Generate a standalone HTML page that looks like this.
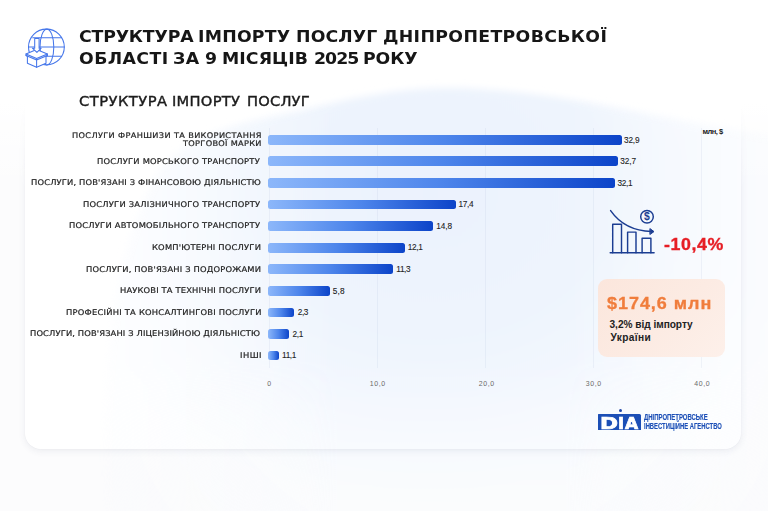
<!DOCTYPE html>
<html lang="uk">
<head>
<meta charset="utf-8">
<title>Структура імпорту послуг Дніпропетровської області</title>
<style>
html,body{margin:0;padding:0;}
body{width:768px;height:511px;overflow:hidden;position:relative;background:#fcfcfd;font-family:"Liberation Sans",sans-serif;color:#1a1a1a;}
.card{position:absolute;left:25px;top:-30px;width:716px;height:479px;border-radius:16px;background:transparent;box-shadow:0 2px 7px rgba(60,70,100,.085),0 0 2px rgba(60,70,100,.06);}
.cardfill{position:absolute;left:25px;top:-30px;width:716px;height:479px;border-radius:16px;background:#fff;}
.topfill{position:absolute;left:0;top:0;width:768px;height:200px;background:linear-gradient(180deg,#fff 0,#fff 100px,rgba(255,255,255,0) 190px);}
.cardwrap{position:absolute;left:0;top:0;width:768px;height:511px;-webkit-mask-image:linear-gradient(180deg,transparent 105px,#000 190px);mask-image:linear-gradient(180deg,transparent 105px,#000 190px);}
.t{position:absolute;white-space:nowrap;line-height:1;transform-origin:0 0;}
.hd{margin:0;padding:0;font:inherit;}
.title{font-weight:bold;color:#161616;}
.sub{color:#1c1c1c;-webkit-text-stroke:.4px #1c1c1c;}
.lab{color:#222;-webkit-text-stroke:.2px #222;}
.val{color:#222;-webkit-text-stroke:.1px #222;}
.ax{color:#6a6a6a;}
.mln{font-weight:bold;color:#222;}
.pct{font-weight:bold;color:#e61e25;-webkit-text-stroke:.35px #e61e25;}
.big{font-weight:bold;color:#f07d3c;-webkit-text-stroke:.3px #f07d3c;}
.small{font-weight:bold;color:#222;}
.bar{position:absolute;left:268px;height:9.7px;border-radius:2.5px;background:linear-gradient(90deg,#8cb7fa 0%,#4d85eb 50%,#0c44c9 100%);}
.grid{position:absolute;top:128px;width:1px;height:240px;background:rgba(150,165,200,.11);}
.ocard{position:absolute;left:598.2px;top:278.8px;width:127.2px;height:78.5px;border-radius:9px;background:linear-gradient(135deg,#fbe6dc 0%,#fcebe3 55%,#fdf0ea 100%);}
.logo{position:absolute;left:597.7px;top:413.8px;width:43.8px;height:15.9px;background:#1c4fb6;border-radius:.5px 1.5px .5px .5px;}
.lg{position:absolute;top:415.9px;font-family:"DejaVu Sans","Liberation Sans",sans-serif;font-weight:bold;font-size:15.7px;line-height:1;color:#fff;-webkit-text-stroke:.7px #fff;transform-origin:0 0;}
.lt{position:absolute;white-space:nowrap;line-height:1;color:#1c4fb6;font-weight:bold;transform-origin:0 0;-webkit-text-stroke:.15px #1c4fb6;}
</style>
</head>
<body>

<div class="cardfill"></div>
<div class="topfill"></div>
<svg style="position:absolute;left:0;top:0" width="768" height="511" viewBox="0 0 768 511">
  <defs>
    <radialGradient id="bg1" gradientUnits="userSpaceOnUse" cx="430" cy="190" r="400" gradientTransform="translate(430 190) scale(1 .8) translate(-430 -190)">
      <stop offset="0" stop-color="#ebf2fd"/><stop offset=".45" stop-color="#eef4fd"/><stop offset=".75" stop-color="#f4f8fe"/><stop offset="1" stop-color="#f9fbfe"/>
    </radialGradient>
    <filter id="bl" x="-10%" y="-10%" width="120%" height="120%"><feGaussianBlur stdDeviation="3.5"/></filter>
    <linearGradient id="fadeL" gradientUnits="userSpaceOnUse" x1="95" x2="768" y1="0" y2="0"><stop offset="0" stop-color="#fff" stop-opacity=".2"/><stop offset=".36" stop-color="#fff" stop-opacity="1"/><stop offset=".7" stop-color="#fff" stop-opacity="1"/><stop offset="1" stop-color="#fff" stop-opacity=".35"/></linearGradient>
    <mask id="mk" maskUnits="userSpaceOnUse" x="0" y="0" width="768" height="511"><rect x="0" y="0" width="768" height="511" fill="url(#fadeL)"/></mask>
    <linearGradient id="fadeV" gradientUnits="userSpaceOnUse" x1="0" x2="0" y1="0" y2="511"><stop offset="0" stop-color="#fff" stop-opacity="1"/><stop offset=".7" stop-color="#fff" stop-opacity="1"/><stop offset="1" stop-color="#fff" stop-opacity=".55"/></linearGradient>
    <mask id="mkv" maskUnits="userSpaceOnUse" x="0" y="0" width="768" height="511"><rect x="0" y="0" width="768" height="511" fill="url(#fadeV)"/></mask>
  </defs>
  <g mask="url(#mkv)"><g mask="url(#mk)"><path filter="url(#bl)" fill="url(#bg1)" d="M105 530C100 390 108 260 158 172C192 128 255 120 300 111C350 98 400 88 447 88C520 88 600 104 680 120C720 127 760 134 810 142L810 530Z"/></g></g>
</svg>
<div class="cardwrap"><div class="card"></div></div>
<div class="grid" style="left:268.6px"></div>
<div class="grid" style="left:376.8px"></div>
<div class="grid" style="left:484.9px"></div>
<div class="grid" style="left:593.1px"></div>
<div class="grid" style="left:701.1px"></div>
<div class="bar" style="top:134.90px;width:353.50px"></div>
<div class="bar" style="top:156.49px;width:349.50px"></div>
<div class="bar" style="top:178.07px;width:346.50px"></div>
<div class="bar" style="top:199.66px;width:187.75px"></div>
<div class="bar" style="top:221.24px;width:165.00px"></div>
<div class="bar" style="top:242.83px;width:136.75px"></div>
<div class="bar" style="top:264.41px;width:125.00px"></div>
<div class="bar" style="top:286.00px;width:62.00px"></div>
<div class="bar" style="top:307.58px;width:26.10px"></div>
<div class="bar" style="top:329.16px;width:20.75px"></div>
<div class="bar" style="top:350.75px;width:11.10px"></div>
<div class="ocard"></div>

<!-- globe / import icon -->
<svg style="position:absolute;left:20px;top:22px" width="56" height="50" viewBox="20 22 56 50" fill="none" stroke="#4576ea" stroke-width="1.05" stroke-linecap="round" stroke-linejoin="round">
  <circle cx="46.4" cy="47" r="17.9"/>
  <ellipse cx="46.9" cy="47" rx="6.9" ry="17.9"/>
  <path d="M32.7 37.7H61.1M28.5 47H64.3M46.5 56.3H61.6"/>
  <path d="M26 54L36.6 49.6L47.4 54V55.6L46 56.2V63.2L36.6 67.2L27.4 63.2V56.2L26 55.6Z" fill="#fff"/>
  <path d="M26 54L36.6 58.4L47.4 54M26 55.6L36.6 60L47.4 55.6M36.6 58.4V67.2"/>
  <path d="M34.7 38.4H39.1V48.2H41.2L36.9 52.4L32.4 48.2H34.7Z" fill="#fff"/>
</svg>

<!-- declining chart icon -->
<svg style="position:absolute;left:606px;top:204px" width="54" height="54" viewBox="606 204 54 54" fill="none" stroke="#1b3d92" stroke-width="1.45" stroke-linecap="round" stroke-linejoin="round">
  <path d="M610.2 252.7H654.1"/>
  <path d="M612.7 252.7V224.3H621.5V252.7M627.6 252.7V232.1H636V252.7M642.1 252.7V238.3H650.9V252.7"/>
  <path d="M610.6 210.6C620 224 634 231 651.6 231.5"/>
  <path d="M650.2 228.8L654 231.6L650.2 234.3Z" fill="#1b3d92" stroke-width="1"/>
  <circle cx="647" cy="216.7" r="6.3"/>
</svg>
<div class="t" style="left:644.0px;top:211.6px;font-size:10.4px;font-weight:bold;color:#1b3d92;">$</div>

<!-- DIA logo -->
<div class="logo"></div>
<div style="position:absolute;left:618.8px;top:408.5px;width:3.5px;height:3.5px;border-radius:50%;background:#1c45a8"></div>
<div class="lg" style="left:599.7px;transform:scaleX(1.38);">D</div>
<div class="lg" style="left:617.7px;transform:scaleX(1.05);">I</div>
<div class="lg" style="left:624.6px;transform:scaleX(1.08);">A</div>
<div class="lt" style="left:644.3px;top:413.0px;font-size:9.1px;transform:scaleX(.655);">ДНІПРОПЕТРОВСЬКЕ</div>
<div class="lt" style="left:644.3px;top:421.8px;font-size:9.1px;transform:scaleX(.645);">ІНВЕСТИЦІЙНЕ АГЕНСТВО</div>

<h1 class="hd">
<div class="t title" id="t1w0" style="left:78.50px;top:29.07px;font-family:'DejaVu Sans','Liberation Sans',sans-serif;font-size:15.75px;letter-spacing:-0.163px;transform:scaleX(1.100);">СТРУКТУРА</div>
<div class="t title" id="t1w1" style="left:197.90px;top:29.07px;font-family:'DejaVu Sans','Liberation Sans',sans-serif;font-size:15.75px;letter-spacing:0.212px;transform:scaleX(1.100);">ІМПОРТУ</div>
<div class="t title" id="t1w2" style="left:296.00px;top:29.07px;font-family:'DejaVu Sans','Liberation Sans',sans-serif;font-size:15.75px;letter-spacing:0.122px;transform:scaleX(1.100);">ПОСЛУГ</div>
<div class="t title" id="t1w3" style="left:382.50px;top:29.07px;font-family:'DejaVu Sans','Liberation Sans',sans-serif;font-size:15.75px;letter-spacing:0.315px;transform:scaleX(1.100);">ДНІПРОПЕТРОВСЬКОЇ</div>
<div class="t title" id="t2w0" style="left:78.50px;top:51.27px;font-family:'DejaVu Sans','Liberation Sans',sans-serif;font-size:15.75px;letter-spacing:0.362px;transform:scaleX(1.100);">ОБЛАСТІ</div>
<div class="t title" id="t2w1" style="left:173.00px;top:51.27px;font-family:'DejaVu Sans','Liberation Sans',sans-serif;font-size:15.75px;letter-spacing:0.337px;transform:scaleX(1.100);">ЗА</div>
<div class="t title" id="t2w2" style="left:205.00px;top:51.27px;font-family:'DejaVu Sans','Liberation Sans',sans-serif;font-size:15.75px;letter-spacing:0.000px;transform:scaleX(1.100);">9</div>
<div class="t title" id="t2w3" style="left:221.90px;top:51.27px;font-family:'DejaVu Sans','Liberation Sans',sans-serif;font-size:15.75px;letter-spacing:0.080px;transform:scaleX(1.100);">МІСЯЦІВ</div>
<div class="t title" id="t2w4" style="left:314.10px;top:51.27px;font-family:'DejaVu Sans','Liberation Sans',sans-serif;font-size:15.75px;letter-spacing:-0.857px;transform:scaleX(1.100);">2025</div>
<div class="t title" id="t2w5" style="left:362.90px;top:51.27px;font-family:'DejaVu Sans','Liberation Sans',sans-serif;font-size:15.75px;letter-spacing:-0.106px;transform:scaleX(1.100);">РОКУ</div>
</h1>
<h2 class="hd">
<div class="t sub" id="t3w0" style="left:78.50px;top:93.75px;font-family:'DejaVu Sans','Liberation Sans',sans-serif;font-size:14.11px;letter-spacing:0.466px;transform:scaleX(1.040);">СТРУКТУРА</div>
<div class="t sub" id="t3w1" style="left:172.10px;top:93.75px;font-family:'DejaVu Sans','Liberation Sans',sans-serif;font-size:14.11px;letter-spacing:0.267px;transform:scaleX(1.040);">ІМПОРТУ</div>
<div class="t sub" id="t3w2" style="left:246.90px;top:93.75px;font-family:'DejaVu Sans','Liberation Sans',sans-serif;font-size:14.11px;letter-spacing:0.180px;transform:scaleX(1.040);">ПОСЛУГ</div>
</h2>
<div class="t lab" id="l0a" style="left:71.50px;top:131.51px;font-family:'DejaVu Sans','Liberation Sans',sans-serif;font-size:7.67px;letter-spacing:0.332px;transform:scaleX(1.070);">ПОСЛУГИ ФРАНШИЗИ ТА ВИКОРИСТАННЯ</div>
<div class="t lab" id="l0b" style="left:182.50px;top:140.41px;font-family:'DejaVu Sans','Liberation Sans',sans-serif;font-size:7.67px;letter-spacing:0.289px;transform:scaleX(1.070);">ТОРГОВОЇ МАРКИ</div>
<div class="t val" id="v0" style="left:624.00px;top:136.53px;font-family:'Liberation Sans',sans-serif;font-size:8.26px;letter-spacing:-0.188px;">32,9</div>
<div class="t lab" id="l1" style="left:97.25px;top:157.68px;font-family:'DejaVu Sans','Liberation Sans',sans-serif;font-size:7.81px;letter-spacing:0.194px;transform:scaleX(1.070);">ПОСЛУГИ МОРСЬКОГО ТРАНСПОРТУ</div>
<div class="t val" id="v1" style="left:620.25px;top:158.11px;font-family:'Liberation Sans',sans-serif;font-size:8.26px;letter-spacing:-0.104px;">32,7</div>
<div class="t lab" id="l2" style="left:31.10px;top:179.26px;font-family:'DejaVu Sans','Liberation Sans',sans-serif;font-size:7.81px;letter-spacing:0.147px;transform:scaleX(1.070);">ПОСЛУГИ, ПОВ'ЯЗАНІ З ФІНАНСОВОЮ ДІЯЛЬНІСТЮ</div>
<div class="t val" id="v2" style="left:617.50px;top:179.70px;font-family:'Liberation Sans',sans-serif;font-size:8.26px;letter-spacing:-0.350px;">32,1</div>
<div class="t lab" id="l3" style="left:82.90px;top:200.85px;font-family:'DejaVu Sans','Liberation Sans',sans-serif;font-size:7.81px;letter-spacing:0.205px;transform:scaleX(1.070);">ПОСЛУГИ ЗАЛІЗНИЧНОГО ТРАНСПОРТУ</div>
<div class="t val" id="v3" style="left:458.50px;top:201.28px;font-family:'Liberation Sans',sans-serif;font-size:8.26px;letter-spacing:-0.350px;">17,4</div>
<div class="t lab" id="l4" style="left:69.00px;top:222.43px;font-family:'DejaVu Sans','Liberation Sans',sans-serif;font-size:7.81px;letter-spacing:0.199px;transform:scaleX(1.070);">ПОСЛУГИ АВТОМОБІЛЬНОГО ТРАНСПОРТУ</div>
<div class="t val" id="v4" style="left:436.25px;top:222.87px;font-family:'Liberation Sans',sans-serif;font-size:8.26px;letter-spacing:-0.104px;">14,8</div>
<div class="t lab" id="l5" style="left:152.10px;top:244.02px;font-family:'DejaVu Sans','Liberation Sans',sans-serif;font-size:7.81px;letter-spacing:0.181px;transform:scaleX(1.070);">КОМП'ЮТЕРНІ ПОСЛУГИ</div>
<div class="t val" id="v5" style="left:407.75px;top:244.45px;font-family:'Liberation Sans',sans-serif;font-size:8.26px;letter-spacing:-0.350px;">12,1</div>
<div class="t lab" id="l6" style="left:86.10px;top:265.60px;font-family:'DejaVu Sans','Liberation Sans',sans-serif;font-size:7.81px;letter-spacing:0.171px;transform:scaleX(1.070);">ПОСЛУГИ, ПОВ'ЯЗАНІ З ПОДОРОЖАМИ</div>
<div class="t val" id="v6" style="left:396.25px;top:266.04px;font-family:'Liberation Sans',sans-serif;font-size:8.26px;letter-spacing:-0.350px;">11,3</div>
<div class="t lab" id="l7" style="left:120.00px;top:287.19px;font-family:'DejaVu Sans','Liberation Sans',sans-serif;font-size:7.81px;letter-spacing:0.139px;transform:scaleX(1.070);">НАУКОВІ ТА ТЕХНІЧНІ ПОСЛУГИ</div>
<div class="t val" id="v7" style="left:332.75px;top:287.62px;font-family:'Liberation Sans',sans-serif;font-size:8.26px;letter-spacing:0.141px;">5,8</div>
<div class="t lab" id="l8" style="left:65.50px;top:308.77px;font-family:'DejaVu Sans','Liberation Sans',sans-serif;font-size:7.81px;letter-spacing:0.214px;transform:scaleX(1.070);">ПРОФЕСІЙНІ ТА КОНСАЛТИНГОВІ ПОСЛУГИ</div>
<div class="t val" id="v8" style="left:297.70px;top:309.21px;font-family:'Liberation Sans',sans-serif;font-size:8.26px;letter-spacing:-0.350px;">2,3</div>
<div class="t lab" id="l9" style="left:30.00px;top:330.36px;font-family:'DejaVu Sans','Liberation Sans',sans-serif;font-size:7.81px;letter-spacing:0.122px;transform:scaleX(1.070);">ПОСЛУГИ, ПОВ'ЯЗАНІ З ЛІЦЕНЗІЙНОЮ ДІЯЛЬНІСТЮ</div>
<div class="t val" id="v9" style="left:292.50px;top:330.79px;font-family:'Liberation Sans',sans-serif;font-size:8.26px;letter-spacing:-0.350px;">2,1</div>
<div class="t lab" id="l10" style="left:239.50px;top:351.94px;font-family:'DejaVu Sans','Liberation Sans',sans-serif;font-size:7.81px;letter-spacing:0.427px;transform:scaleX(1.070);">ІНШІ</div>
<div class="t val" id="v10" style="left:282.00px;top:352.38px;font-family:'Liberation Sans',sans-serif;font-size:8.26px;letter-spacing:-0.350px;">11,1</div>
<div class="t ax" id="a0" style="left:267.25px;top:381.29px;font-family:'Liberation Sans',sans-serif;font-size:6.96px;letter-spacing:0.000px;">0</div>
<div class="t ax" id="a1" style="left:369.65px;top:381.29px;font-family:'Liberation Sans',sans-serif;font-size:6.96px;letter-spacing:0.651px;">10,0</div>
<div class="t ax" id="a2" style="left:478.75px;top:381.29px;font-family:'Liberation Sans',sans-serif;font-size:6.96px;letter-spacing:0.651px;">20,0</div>
<div class="t ax" id="a3" style="left:585.75px;top:381.29px;font-family:'Liberation Sans',sans-serif;font-size:6.96px;letter-spacing:0.651px;">30,0</div>
<div class="t ax" id="a4" style="left:694.25px;top:381.29px;font-family:'Liberation Sans',sans-serif;font-size:6.96px;letter-spacing:0.651px;">40,0</div>
<div class="t mln" id="mln" style="left:702.40px;top:127.79px;font-family:'Liberation Sans',sans-serif;font-size:7.54px;letter-spacing:-0.476px;">млн, $</div>
<div class="t pct" id="pct" style="left:664.20px;top:236.04px;font-family:'Liberation Sans',sans-serif;font-size:17.25px;letter-spacing:0.564px;transform:scaleX(1.030);">-10,4%</div>
<div class="t big" id="big" style="left:607.00px;top:295.51px;font-family:'Liberation Sans',sans-serif;font-size:16.81px;letter-spacing:0.909px;transform:scaleX(1.070);">$174,6 млн</div>
<div class="t small" id="s1" style="left:609.50px;top:320.28px;font-family:'Liberation Sans',sans-serif;font-size:10.14px;letter-spacing:-0.031px;">3,2% від імпорту</div>
<div class="t small" id="s2" style="left:610.50px;top:333.08px;font-family:'Liberation Sans',sans-serif;font-size:10.14px;letter-spacing:0.353px;">України</div>
</body>
</html>
